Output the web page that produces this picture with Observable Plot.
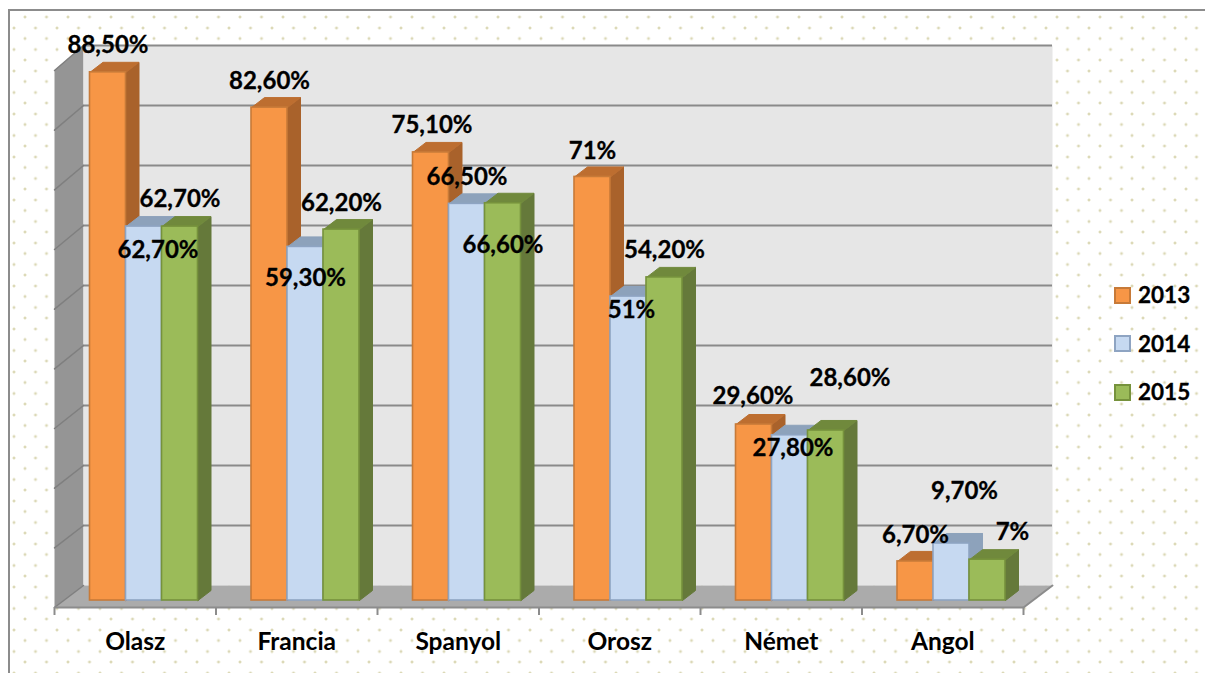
<!DOCTYPE html>
<html><head><meta charset="utf-8">
<script src="https://cdn.jsdelivr.net/npm/d3@7"></script>
<script src="https://cdn.jsdelivr.net/npm/@observablehq/plot@0.6"></script>
<style>
html,body{margin:0;padding:0;background:#fff;overflow:hidden}
#page{position:relative;width:1205px;height:673px;overflow:hidden;font-family:Lato,sans-serif}
#frame{position:absolute;left:8px;top:9px;width:1197px;height:664px;border-left:2px solid #8c8c8c;border-top:2px solid #8c8c8c;box-sizing:border-box;
background-image:radial-gradient(circle,#dbd8b6 0.9px,rgba(219,216,182,0) 1.9px),radial-gradient(circle,#dbd8b6 0.9px,rgba(219,216,182,0) 1.9px);
background-size:21.5px 21.5px;background-position:4.25px -4.75px,-6.75px 6.25px}
#chart{position:absolute;left:0;top:0}
#legend{position:absolute;left:1114px;top:0}
.li{position:absolute;left:0;display:flex;align-items:center;font-weight:700;font-size:22.5px;line-height:24px;white-space:nowrap;color:#000;-webkit-text-stroke:0.3px #000}
.sw{width:13px;height:13px;border-width:2px;border-style:solid;margin-right:7px;flex:none}
</style></head><body>
<div id="page"><div id="frame"></div><div id="chart"></div><div id="legend"></div></div>
<script>
const categories = ["Olasz","Francia","Spanyol","Orosz","Német","Angol"];
const seriesNames = ["2013","2014","2015"];
const values2013 = [88.5,82.6,75.1,71,29.6,6.7];
const values2014 = [62.7,59.3,66.5,51,27.8,9.7];
const values2015 = [62.7,62.2,66.6,54.2,28.6,7];
const labels2013 = ["88,50%","82,60%","75,10%","71%","29,60%","6,70%"];
const labels2014 = ["62,70%","59,30%","66,50%","51%","27,80%","9,70%"];
const labels2015 = ["62,70%","62,20%","66,60%","54,20%","28,60%","7%"];
const gridValues = [0,10,20,30,40,50,60,70,80,90];

// appearance, kept apart from the data
const looks = [
  {front:"#f79646",stroke:"#c77a38",side:"#a9622b",top:"#bd6e30"},
  {front:"#c6d9f1",stroke:"#8ea4c2",side:"#8da2bb",top:"#8da2bb"},
  {front:"#9bbb59",stroke:"#76923c",side:"#65793a",top:"#70893c"}
];
// hand-dragged data label offsets in the original (px from top of bar)
const labelShift = [
  [[0,-27],[0,-26],[1,-27],[0,-26],[-1,-28],[0,-26]],
  [[14,24],[0,31],[0,-27],[3,14],[3,13],[13,-52]],
  [[0,-27],[0,-26],[0,42],[0,-27],[24,-52],[25,-27]]
];

const pxX = 969/6, pxY = 537/90;            // pixels per unit of the x and y scales
const U = px => px/pxX, V = px => px/pxY;
const wallDX = U(29), wallDY = V(22), wallK = 540/537;
const barBase = V(7), barTopLift = V(6), barK = 5.98/5.967;
const depthX = U(13), depthY = V(10);
const barStart = U(35.5), barWidth = U(36);
const allValues = [values2013,values2014,values2015];
const allLabels = [labels2013,labels2014,labels2015];

const poly = (pts, o) => Plot.line(pts,{x:"x",y:"y",z:"z",curve:"linear",...o});
const P = (x,y,z) => ({x,y,z});

const marks = [];
// left wall, back wall, floor
marks.push(poly([P(0,0,0),P(0,90,0),P(wallDX,90*wallK+wallDY,0),P(wallDX,wallDY,0),P(0,0,0)],{fill:"#959595",stroke:"none"}));
marks.push(poly([P(wallDX,wallDY,0),P(wallDX,90*wallK+wallDY,0),P(6+wallDX,90*wallK+wallDY,0),P(6+wallDX,wallDY,0),P(wallDX,wallDY,0)],{fill:"#e6e6e6",stroke:"none"}));
marks.push(poly([P(0,0,0),P(wallDX,wallDY,0),P(6+wallDX,wallDY,0),P(6,0,0),P(0,0,0)],{fill:"#ababab",stroke:"none"}));
// gridlines on the back wall and the left wall
marks.push(Plot.ruleY(gridValues.slice(1),{y:v=>v*wallK+wallDY,x1:wallDX,x2:6+wallDX,stroke:"#8a8a8a",strokeWidth:2}));
marks.push(poly(gridValues.flatMap(v=>[P(0,v,v),P(wallDX,v*wallK+wallDY,v)]),{stroke:"#7f7f7f",strokeWidth:1.5}));
marks.push(poly([P(6,0,0),P(6+wallDX,wallDY,0)],{stroke:"#8c8c8c",strokeWidth:2}));

// bars, series by series, so each hides the side of the one to its left
allValues.forEach((vals,s)=>{
  const L = looks[s];
  const rows = vals.map((v,c)=>{
    const x1 = c+barStart+s*barWidth, x2 = x1+barWidth, y1 = barBase, y2 = v*barK+barTopLift;
    return {c,x1,x2,y1,y2,v};
  });
  const side = rows.flatMap(r=>[P(r.x2,r.y1,r.c),P(r.x2,r.y2,r.c),P(r.x2+depthX,r.y2+depthY,r.c),P(r.x2+depthX,r.y1+depthY,r.c),P(r.x2,r.y1,r.c)]);
  const top = rows.flatMap(r=>[P(r.x1,r.y2,r.c),P(r.x1+depthX,r.y2+depthY,r.c),P(r.x2+depthX,r.y2+depthY,r.c),P(r.x2,r.y2,r.c),P(r.x1,r.y2,r.c)]);
  marks.push(poly(side,{fill:L.side,stroke:L.side,strokeWidth:1}));
  marks.push(poly(top,{fill:L.top,stroke:L.top,strokeWidth:1}));
  marks.push(Plot.rect(rows,{x1:"x1",x2:"x2",y1:"y1",y2:"y2",fill:L.front,stroke:L.stroke,strokeWidth:1.6}));
});

// axis
marks.push(Plot.ruleY([0],{x1:0,x2:6,stroke:"#8c8c8c",strokeWidth:2}));
marks.push(Plot.axisX({ticks:d3.range(0,7),tickSize:8,tickFormat:()=>"",stroke:"#8c8c8c",strokeWidth:2,tickPadding:0}));
marks.push(Plot.axisX({ticks:categories.map((_,i)=>i+0.5),tickSize:0,tickPadding:25,tickFormat:d=>categories[d-0.5],fontSize:24.5,fontWeight:700,fontFamily:"Lato",fill:"#000",stroke:"#000",strokeWidth:0.3}));

// data labels
allValues.forEach((vals,s)=>{
  vals.forEach((v,c)=>{
    marks.push(Plot.text([v],{
      x:()=>c+barStart+(s+0.5)*barWidth, y:d=>d*barK+barTopLift,
      text:()=>allLabels[s][c],
      dx:labelShift[s][c][0], dy:labelShift[s][c][1],
      fontSize:24,fontWeight:700,fontFamily:"Lato",fill:"#000",stroke:"#000",strokeWidth:0.3
    }));
  });
});

const plot = Plot.plot({
  width:1205,height:673,
  marginLeft:54,marginRight:182,marginTop:70,marginBottom:66,
  x:{type:"linear",domain:[0,6],axis:null},
  y:{type:"linear",domain:[0,90],axis:null},
  style:{background:"transparent",overflow:"visible"},
  marks
});
document.getElementById("chart").appendChild(plot);

const legend = document.getElementById("legend");
seriesNames.forEach((n,i)=>{
  const row = document.createElement("div");
  row.className="li"; row.style.top=(283+i*48.5)+"px";
  const sw = document.createElement("span"); sw.className="sw";
  sw.style.background=looks[i].front; sw.style.borderColor=looks[i].stroke;
  row.appendChild(sw); row.appendChild(document.createTextNode(n));
  legend.appendChild(row);
});
</script>
</body></html>
